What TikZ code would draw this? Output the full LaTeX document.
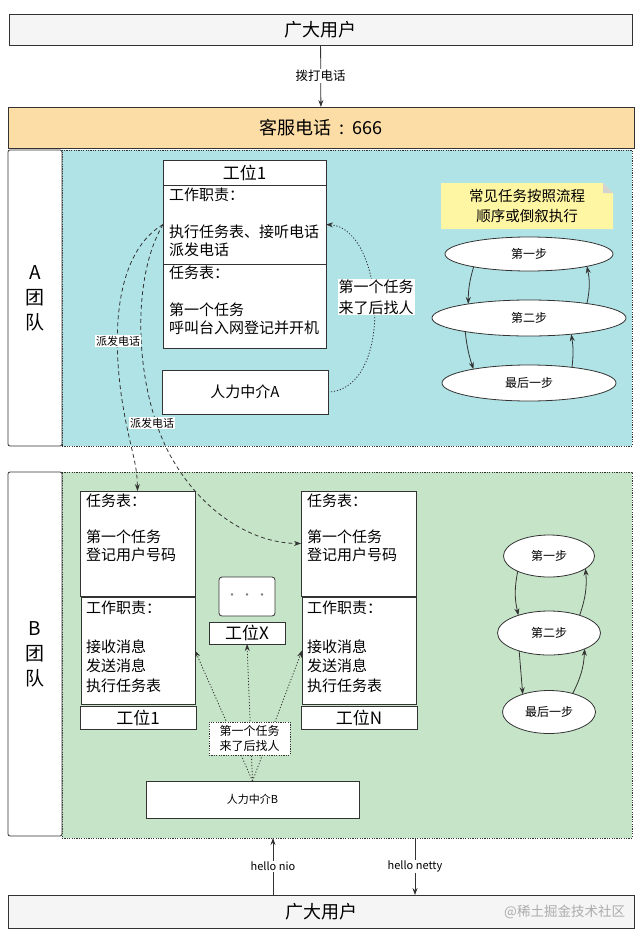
\documentclass[tikz,border=0pt]{standalone}
\usepackage{fontspec}
\setmainfont{Noto Sans CJK SC}
\usetikzlibrary{arrows.meta,shapes.geometric,positioning}

\definecolor{usergray}{HTML}{F5F5F5}
\definecolor{hotorange}{HTML}{FDDDA6}
\definecolor{teamcyan}{HTML}{B0E3E6}
\definecolor{teamgreen}{HTML}{C6E5C8}
\definecolor{noteyellow}{HTML}{FFF6A3}
\definecolor{edge}{HTML}{333333}

\begin{document}
\begin{tikzpicture}[x=1pt,y=-1pt,
    every node/.style={inner sep=0pt, outer sep=0pt},
    box/.style={draw=edge, fill=white, line width=0.8pt, anchor=north west},
    area/.style={box, dash pattern=on 1.2pt off 1.2pt},
    body/.style={anchor=north west, align=left, font=\fontsize{15}{18.5}\selectfont},
    title/.style={font=\fontsize{17}{20}\selectfont},
    lbl/.style={fill=white, inner sep=1pt, font=\fontsize{11}{13}\selectfont},
    stepnode/.style={ellipse, draw=edge, fill=white, line width=0.8pt, font=\fontsize{12}{14}\selectfont},
    arr/.style={draw=edge, line width=0.8pt, -{Stealth[length=7pt,width=5pt]}},
    dasharr/.style={arr, dash pattern=on 4pt off 3pt},
    dotarr/.style={arr, dash pattern=on 1.2pt off 1.8pt}]

    % canvas
    \fill[white] (0,0) rectangle (643,940);
    \useasboundingbox (0,0) rectangle (643,940);

    % Users and hotline
    \node[box, fill=usergray, minimum width=623pt, minimum height=31pt, font=\fontsize{18}{22}\selectfont] (users-top) at (9,14) {广大用户};
    \node[box, fill=hotorange, minimum width=626pt, minimum height=41pt, font=\fontsize{18}{22}\selectfont] (hotline) at (8,107) {客服电话\hbox to 8pt{}:\hbox to 8pt{}666};
    \draw[arr] (users-top) -- node[lbl, font=\fontsize{12.5}{14}\selectfont] (dial-lbl) {拨打电话} (hotline);

    % Team A
    \node[area, fill=teamcyan, minimum width=570pt, minimum height=296pt] (a-area) at (62,150) {};
    \node[box, rounded corners=2pt, minimum width=54pt, minimum height=296pt, align=center, font=\fontsize{19}{25}\selectfont] (a-team) at (8,150) {A\\团\\队};

    % workstation 1 of team A
    \node[box, title, minimum width=163pt, minimum height=25pt] (a-head) at (163,160) {工位1};
    \node[box, minimum width=163pt, minimum height=79pt] (a-duty) at (163,185) {};
    \node[box, minimum width=163pt, minimum height=84pt] (a-task) at (163,264) {};
    \node[body] (a-duty-txt) at ([xshift=6pt,yshift=-2.5pt]a-duty.north west) {工作职责：\\[18.5pt]执行任务表、接听电话\\派发电话};
    \node[body] (a-task-txt) at ([xshift=6pt,yshift=-1.5pt]a-task.north west) {任务表：\\[18.5pt]第一个任务\\呼叫台入网登记并开机};
    \node[box, minimum width=166pt, minimum height=44pt, font=\fontsize{15}{18}\selectfont] (hr-a) at (162,370) {人力中介A};

    % HR A calls the workstation
    \draw[dotarr] (hr-a.east) .. controls (395,390) and (385,228) .. (a-duty.east);
    \node[lbl, align=left, font=\fontsize{15}{21}\selectfont] (a-find) at (376,297) {第一个任务\\来了后找人};

    % Notes (folded corner)
    \foreach \nm/\l/\t/\r/\b in {a-note/441/183/613/229, b-note/453/480/626/526} {
        \fill[noteyellow] (\l,\t) -- (\r-10,\t) -- (\r,\t+10) -- (\r,\b) -- (\l,\b) -- cycle;
        \fill[gray!35] (\r-10,\t) -- (\r,\t+10) -- (\r-10,\t+10) -- cycle;
        \node[align=center, font=\fontsize{14.5}{20}\selectfont] (\nm) at ({(\l+\r)/2},{(\t+\b)/2}) {常见任务按照流程\\顺序或倒叙执行};
    }

    % steps of team A
    \node[stepnode, minimum width=168pt, minimum height=34pt] (a-s1) at (529,254) {第一步};
    \node[stepnode, minimum width=194pt, minimum height=36pt] (a-s2) at (529,318) {第二步};
    \node[stepnode, minimum width=174pt, minimum height=36pt] (a-s3) at (529,383) {最后一步};
    \draw[arr] (a-s1.193) to[bend right=8] (a-s2.167);
    \draw[arr] (a-s2.14) to[bend right=12] (a-s1.348);
    \draw[arr] (a-s2.192) to[bend right=6] (a-s3.166);
    \draw[arr] (a-s3.20) to[bend right=8] (a-s2.339);

    % Team B
    \node[area, fill=teamgreen, minimum width=570pt, minimum height=366pt] (b-area) at (62,472) {};
    \node[box, rounded corners=2pt, minimum width=54pt, minimum height=364pt, align=center, font=\fontsize{19}{25}\selectfont] (b-team) at (8,472) {B\\团\\队};

    % workstations 1 and N of team B
    \foreach \n/\x/\lab in {b1/80/工位1, bN/301/工位N} {
        \node[box, minimum width=115pt, minimum height=105pt] (\n-task) at (\x,491) {};
        \node[body, font=\fontsize{15}{18}\selectfont] (\n-task-txt) at ([xshift=6pt,yshift=-2.5pt]\n-task.north west) {任务表：\\[18pt]第一个任务\\登记用户号码};
        \node[box, minimum width=114pt, minimum height=107pt] (\n-duty) at (\x+1,597) {};
        \node[body, font=\fontsize{15}{19.5}\selectfont] (\n-duty-txt) at ([xshift=5pt,yshift=-3.5pt]\n-duty.north west) {工作职责：\\[19.5pt]接收消息\\发送消息\\执行任务表};
        \node[box, title, minimum width=116pt, minimum height=23pt] (\n-name) at (\x,706) {\lab};
    }
    \node[box, rounded corners=3pt, minimum width=56pt, minimum height=39pt, text=gray, font=\fontsize{12}{14}\selectfont] (bX-dots) at (219,577) {·\hspace{3pt}·\hspace{3pt}·};
    \node[box, title, minimum width=76pt, minimum height=22pt] (bX-name) at (209,622) {工位X};
    \node[box, minimum width=213pt, minimum height=37pt, font=\fontsize{11}{13}\selectfont] (hr-b) at (146,781) {人力中介B};

    % HR B calls the workstations
    \foreach \t in {b1-duty.east, bX-name.south, bN-duty.west}
        \draw[dotarr] (hr-b.north) -- (\t);
    \node[draw=edge, dash pattern=on 1.2pt off 1.2pt, fill=white, minimum width=81pt, minimum height=33pt, align=center, font=\fontsize{12}{14.5}\selectfont] (b-find) at (249.5,738.5) {第一个任务\\来了后找人};

    % dispatching calls from team A to team B
    \draw[dasharr] (a-duty.west) .. controls (120,250) and (110,320) .. (122,400) .. controls (130,450) and (137,460) .. (b1-task.north);
    \draw[dasharr] (a-duty.west) .. controls (130,280) and (135,390) .. (170,455) .. controls (200,510) and (250,543) .. (bN-task.west);
    \node[lbl] (dispatch-1) at (118,341) {派发电话};
    \node[lbl] (dispatch-2) at (152,423) {派发电话};

    % steps of team B
    \node[stepnode, minimum width=91pt, minimum height=42pt] (b-s1) at (549,556) {第一步};
    \node[stepnode, minimum width=103pt, minimum height=44pt] (b-s2) at (549,633) {第二步};
    \node[stepnode, minimum width=93pt, minimum height=43pt] (b-s3) at (549,712) {最后一步};
    \draw[arr] (b-s1.206) to[bend right=12] (b-s2.150);
    \draw[arr] (b-s2.30) to[bend right=12] (b-s1.341);
    \draw[arr] (b-s2.211) -- (b-s3.146);
    \draw[arr] (b-s3.38) to[bend right=12] (b-s2.336);

    % Users at the bottom
    \node[box, fill=usergray, minimum width=626pt, minimum height=33pt, font=\fontsize{18}{22}\selectfont] (users-bot) at (8,895) {广大用户};
    \node[anchor=east, text=gray!65, font=\fontsize{13.5}{16}\selectfont] (watermark) at (625,912) {@稀土掘金技术社区};
    \coordinate (nio) at (273,0);
    \coordinate (netty) at (415,0);
    \draw[arr] (users-bot.north -| nio) -- node[lbl] (nio-lbl) {hello nio} (b-area.south -| nio);
    \draw[arr] (b-area.south -| netty) -- node[lbl] (netty-lbl) {hello netty} (users-bot.north -| netty);

\end{tikzpicture}
\end{document}
